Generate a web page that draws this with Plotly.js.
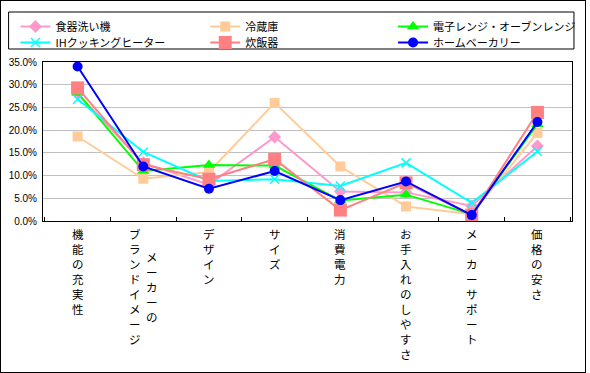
<!DOCTYPE html>
<html>
<head>
<meta charset="utf-8">
<script src="https://cdn.plot.ly/plotly-3.0.1.min.js"></script>
<style>
  html, body { margin: 0; padding: 0; background: #fff; }
  #wrap { position: relative; width: 590px; height: 373px; }
  #chart { position: absolute; left: 0; top: 0; width: 590px; height: 373px; }
  #frame { position: absolute; left: 0; top: 0; width: 586px; height: 373px; box-sizing: border-box;
           border: 1px solid #000; pointer-events: none; }
</style>
</head>
<body>
<div id="wrap"><div id="chart"></div><div id="frame"></div></div>
<script>
// Categories (full names) and how each label is broken into vertical columns
const categories = ['機能の充実性', 'メーカーのブランドイメージ', 'デザイン', 'サイズ', '消費電力', 'お手入れのしやすさ', 'メーカーサポート', '価格の安さ'];
const labelColumns = [
  ['機能の充実性'],
  ['メーカーの', 'ブランドイメージ'],
  ['デザイン'],
  ['サイズ'],
  ['消費電力'],
  ['お手入れのしやすさ'],
  ['メーカーサポート'],
  ['価格の安さ']
];

// Series values (fractions)
const dishwasher   = [0.280, 0.128, 0.080, 0.185, 0.065, 0.063, 0.033, 0.165]; // 食器洗い機
const fridge       = [0.186, 0.093, 0.108, 0.260, 0.120, 0.032, 0.015, 0.194]; // 冷蔵庫
const microwave    = [0.282, 0.110, 0.123, 0.122, 0.045, 0.058, 0.015, 0.213]; // 電子レンジ・オーブンレンジ
const ihHeater     = [0.268, 0.152, 0.088, 0.092, 0.077, 0.128, 0.040, 0.153]; // IHクッキングヒーター
const riceCooker   = [0.293, 0.124, 0.092, 0.136, 0.024, 0.084, 0.013, 0.239]; // 炊飯器
const homeBakery   = [0.340, 0.120, 0.071, 0.110, 0.046, 0.087, 0.013, 0.218]; // ホームベーカリー

const seriesNames = ['食器洗い機', '冷蔵庫', '電子レンジ・オーブンレンジ', 'IHクッキングヒーター', '炊飯器', 'ホームベーカリー'];
const yTickVals = [0, 0.05, 0.10, 0.15, 0.20, 0.25, 0.30, 0.35];

const styles = [
  {color: '#FF99CC', symbol: 'diamond', size: 10},
  {color: '#FFCC99', symbol: 'square', size: 10},
  {color: '#00FF00', symbol: 'triangle-up', size: 11},
  {color: '#00FFFF', symbol: 'x-thin', size: 9},
  {color: '#FF8080', symbol: 'square', size: 13},
  {color: '#0000FF', symbol: 'circle', size: 10}
];
const allSeries = [dishwasher, fridge, microwave, ihHeater, riceCooker, homeBakery];

// plot-area geometry in pixels (for placing legend entries)
const W = 590, H = 373, L = 43, R = 9, T = 62, B = 152;
const pw = W - L - R, ph = H - T - B;
const px2x = p => (p - L) / pw;
const py2y = p => (H - B - p) / ph;

const font = 'Noto Sans CJK JP, Liberation Sans, sans-serif';
const legendCols = [15, 208, 399];
const legendRows = [12, 28];

const layout = {
  width: W, height: H,
  margin: {l: L, r: R, t: T, b: B},
  paper_bgcolor: '#fff', plot_bgcolor: '#fff',
  showlegend: true,
  font: {family: font, color: '#000'},
  xaxis: {
    type: 'category', showticklabels: false,
    ticks: 'inside', tickson: 'boundaries', ticklen: 4, tickcolor: '#000', tickwidth: 1,
    showline: true, linecolor: '#000', linewidth: 1, mirror: true,
    showgrid: false, zeroline: false, fixedrange: true
  },
  yaxis: {
    range: [0, 0.35], tickvals: yTickVals, tickformat: '.1%',
    showgrid: true, gridcolor: '#C0C0C0', gridwidth: 1,
    showline: true, linecolor: '#000', linewidth: 1, mirror: true,
    zeroline: false, ticks: '', ticklabelstandoff: 3,
    tickfont: {family: 'Liberation Sans, sans-serif', size: 10, color: '#000'},
    fixedrange: true
  },
  shapes: [{
    type: 'rect', xref: 'paper', yref: 'paper', layer: 'above',
    x0: px2x(8), x1: px2x(583), y0: py2y(12), y1: py2y(49),
    line: {color: '#000', width: 1}, fillcolor: 'rgba(0,0,0,0)'
  }],
  annotations: []
};

const traces = allSeries.map((vals, i) => {
  const s = styles[i];
  const marker = {color: s.color, symbol: s.symbol, size: s.size};
  if (s.symbol === 'x-thin') marker.line = {color: s.color, width: 1.5};
  const lgKey = i === 0 ? 'legend' : 'legend' + (i + 1);
  const col = i % 3, row = Math.floor(i / 3);
  layout[lgKey] = {
    orientation: 'v', xref: 'paper', yref: 'paper',
    x: px2x(legendCols[col]), xanchor: 'left',
    y: py2y(legendRows[row]), yanchor: 'top',
    borderwidth: 0, bgcolor: 'rgba(0,0,0,0)', itemwidth: 30,
    font: {family: font, size: 11, color: '#000'}
  };
  return {
    type: 'scatter', mode: 'lines+markers', name: seriesNames[i],
    legend: lgKey,
    x: categories, y: vals,
    line: {color: s.color, width: 2},
    marker: marker,
    hoverinfo: 'skip'
  };
});

const colGap = 17, lineH = 15;
labelColumns.forEach((cols, i) => {
  const n = cols.length;
  const maxLen = Math.max(...cols.map(c => c.length));
  cols.forEach((c, j) => {
    layout.annotations.push({
      xref: 'x', yref: 'paper', x: categories[i], y: 0,
      xanchor: 'center', yanchor: 'top', align: 'center',
      xshift: ((n - 1) / 2 - j) * colGap,
      yshift: -3 - (maxLen - c.length) / 2 * lineH,
      showarrow: false,
      text: c.split('').join('<br>'),
      font: {family: font, size: 11.5, color: '#000'}
    });
  });
});

Plotly.newPlot('chart', traces, layout, {displayModeBar: false, staticPlot: true});
</script>
</body>
</html>
